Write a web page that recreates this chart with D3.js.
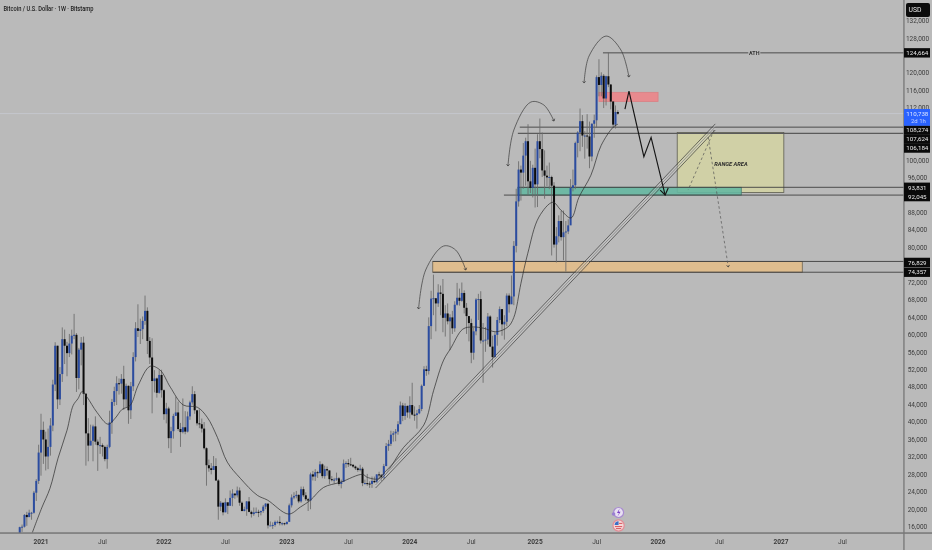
<!DOCTYPE html>
<html><head><meta charset="utf-8">
<script src="https://cdn.jsdelivr.net/npm/d3@7"></script>
<style>
html,body{margin:0;padding:0;background:#bababa;overflow:hidden}
svg{display:block;font-family:Roboto,"Noto Sans",sans-serif;filter:blur(.35px)}
</style></head><body>
<svg id="c" width="932" height="550"></svg>
<script>
// Weekly candles, thousands of USD. First candle is the week of 2 Nov 2020.
const firstOpen = 13.6;
const closes = [
15.9,16.0,18.7,18.2,19.2,19.2,23.8,26.5,33.0,
38.2,36.0,32.1,34.3,39.2,48.6,57.5,45.2,51.0,59.0,
57.5,55.8,58.0,59.8,60.0,50.1,56.6,58.2,46.5,37.4,
34.6,35.7,39.0,35.5,34.7,34.7,34.3,31.5,34.3,39.9,
44.6,47.1,48.9,48.8,49.9,45.2,48.3,42.7,48.2,54.9,
61.5,60.9,61.3,63.2,65.5,58.6,54.8,49.4,50.0,46.7,
50.8,47.3,
41.8,43.1,36.3,37.9,41.4,42.2,38.4,37.7,38.8,37.8,
41.3,44.5,46.4,42.7,39.7,39.5,38.5,34.0,30.1,29.4,
29.0,29.9,26.6,20.6,21.5,19.3,21.6,20.8,22.6,23.6,
23.2,24.3,21.5,19.6,20.0,21.8,19.4,18.9,19.3,19.4,
19.3,19.6,20.6,21.3,16.3,16.3,16.4,17.1,17.1,16.8,
16.8,16.6,
17.1,20.9,22.7,23.0,23.3,21.8,24.6,23.2,22.3,22.0,
28.0,27.5,28.5,28.3,30.3,27.6,29.2,28.9,26.9,26.7,
26.8,27.1,25.8,26.3,30.5,30.6,30.3,30.2,29.8,29.4,
29.0,29.3,26.0,26.0,25.9,25.8,26.5,26.2,28.0,27.9,
27.2,29.9,34.5,35.0,37.1,37.4,37.8,39.5,43.8,41.4,
43.7,42.2,
43.9,41.7,41.6,42.0,43.0,48.3,52.1,51.7,62.0,68.3,
68.4,67.2,69.7,69.4,63.9,64.9,63.1,64.0,61.5,66.9,
68.5,67.8,69.6,66.2,64.3,62.7,55.9,60.8,68.1,68.2,
58.7,58.7,58.9,64.2,57.3,54.9,60.0,63.4,65.9,62.4,
63.0,69.0,67.0,68.8,80.4,90.6,97.9,97.2,101.1,104.4,
95.2,93.7,98.3,
94.5,104.4,102.6,97.7,96.5,96.1,96.2,94.2,80.7,82.6,
86.1,82.4,83.5,83.7,85.1,93.7,94.3,104.0,106.4,109.0,
105.7,105.7,105.5,100.9,108.4,109.2,119.1,117.3,119.4,114.2,
119.3,117.4,113.5,108.2,111.1,110.7];
const highs = [
16.0,16.5,18.9,19.4,19.9,19.4,24.2,26.9,34.8,
41.9,40.1,37.8,38.5,40.9,49.7,58.3,57.5,52.6,61.7,
61.2,58.4,60.2,61.2,64.8,60.4,57.0,59.5,59.6,46.6,
40.9,39.4,39.4,41.3,36.0,36.6,35.1,34.6,34.8,42.6,
45.3,48.1,50.5,50.0,51.0,52.9,48.8,48.4,49.2,56.0,
62.9,67.0,63.7,64.2,69.0,66.3,59.5,59.2,51.9,50.2,
51.9,52.0,
47.5,44.4,43.5,38.9,41.9,45.8,44.7,39.8,45.4,42.5,
42.4,44.9,48.2,47.1,41.5,42.9,40.8,40.0,34.2,31.4,
30.6,32.2,31.7,26.9,21.9,21.5,22.5,21.0,24.3,24.6,
23.6,25.2,25.0,21.8,20.6,21.9,22.8,19.7,20.4,20.4,
19.9,19.7,21.0,21.4,21.0,17.2,17.0,17.4,17.4,18.4,
17.0,16.9,
17.2,21.3,23.4,23.9,24.2,23.4,25.2,25.2,23.9,22.6,
28.4,28.8,29.2,28.8,31.0,30.5,30.0,29.8,28.9,27.6,
27.2,28.4,27.4,26.8,31.4,31.0,31.5,31.8,30.3,30.0,
29.7,30.2,29.7,26.8,28.1,26.4,27.5,27.5,28.0,28.6,
28.0,30.4,35.2,35.9,38.0,37.9,38.4,40.2,44.7,44.4,
44.3,43.8,
45.9,49.0,43.6,42.8,43.9,48.6,52.8,52.9,64.0,70.1,
73.8,68.1,71.6,71.3,72.8,66.8,67.2,64.7,65.5,67.7,
71.9,70.6,72.0,70.2,67.3,63.4,63.7,61.6,68.4,69.4,
70.0,62.7,61.8,65.0,64.5,59.8,60.6,64.1,66.5,65.6,
64.5,69.5,69.5,73.6,81.5,93.5,99.8,98.8,104.0,105.2,
108.3,99.9,99.0,
102.7,106.0,109.6,106.4,102.3,98.8,99.5,96.5,95.0,84.7,
87.4,88.5,88.5,86.1,86.5,95.7,97.9,104.3,106.7,111.9,
110.4,106.7,110.6,108.9,108.5,110.5,119.5,123.2,120.2,119.8,
119.4,124.7,117.5,113.6,112.6,111.5];
const lows = [
13.2,14.8,15.8,16.2,18.2,17.6,19.0,21.9,25.8,
27.7,30.4,28.9,29.2,32.3,37.9,47.1,43.0,43.9,49.2,
53.3,50.5,54.9,55.5,59.0,46.9,47.5,53.0,43.9,30.0,
31.0,34.8,31.0,34.8,28.8,32.7,32.1,31.0,29.3,34.0,
37.3,43.7,43.9,46.3,46.5,42.8,43.4,39.6,40.7,47.1,
53.9,59.5,57.9,59.0,62.3,55.6,53.3,42.0,46.8,45.6,
46.5,45.6,
40.5,39.7,34.0,32.9,36.2,41.6,38.0,34.3,37.4,37.2,
37.6,40.5,44.0,41.9,39.2,38.6,37.6,33.7,25.4,28.6,
28.0,29.3,26.5,17.6,19.6,18.6,19.3,18.9,20.8,20.7,
22.4,22.7,20.8,19.5,19.5,18.5,19.3,18.1,18.5,19.1,
18.2,18.6,19.2,20.0,15.6,16.3,15.5,16.0,16.7,16.3,
16.3,16.3,
16.5,17.3,20.4,22.3,22.5,21.4,21.5,22.8,21.9,19.6,
20.0,26.6,26.5,27.2,28.2,27.1,27.0,27.7,25.8,26.4,
25.9,26.5,25.4,24.8,26.3,29.5,29.7,29.9,29.5,29.0,
28.6,28.7,25.3,25.7,25.4,24.9,24.9,26.0,26.0,27.2,
26.5,26.9,29.9,33.4,34.5,35.5,35.6,37.1,39.9,40.2,
40.5,41.0,
40.8,41.5,40.3,38.5,41.8,42.5,48.4,50.6,50.9,59.0,
64.5,60.8,66.4,64.5,60.6,59.6,62.4,56.5,60.2,60.7,
66.7,66.7,67.6,64.9,60.2,58.5,53.5,54.3,59.9,63.4,
58.0,49.0,56.1,57.8,57.2,52.5,54.6,57.5,62.7,59.8,
58.9,62.0,65.1,67.4,66.8,78.9,89.4,90.8,93.5,94.2,
92.2,92.5,91.5,
89.2,89.3,100.5,96.2,91.2,94.1,93.4,78.2,80.0,76.6,
81.2,81.6,77.1,74.5,83.1,85.3,92.9,93.4,100.7,102.1,
103.1,100.4,102.7,98.2,99.8,105.2,107.5,114.7,114.7,112.0,
112.6,116.8,111.7,107.4,107.3,110.5];

// Moving average: week number (0 = 4 Jan 2021), price in thousands
const maWeeks = [-3.7,0.3,3.8,7.2,11,13.6,15.7,17.4,19.5,23.7,28.4,31.4,34.3,37.7,41.1,46.2,50.4,54.7,60.2,66.1,70.3,74.6,78.8,84.3,91.5,95.8,104.7,109.7,114,119.5,126.7,136,138.1,143.6,153.4,161.9,166.1,170.3,173.3,178.4,182.6,187.3,192.4,197.5,200,203,205.9,210.6,216.5,219.9,224.2,227.5,232.6,236.9,242,244];
const maPrices = [14.6,20.3,24.8,31.7,38.1,43.8,45.4,47,45.7,42.2,39.5,40.9,42.9,43.8,48.4,52.8,51.9,48,43.9,43.4,41.1,36.5,30.8,27.1,23.2,22.1,18.9,20.5,22.1,25,26.2,28,27.3,27.1,34.2,39.3,47.3,54.2,56.9,61.3,61.8,61.5,60.7,61.8,64,71.8,78.7,87,90.4,88.6,86.8,91.5,96.6,103.4,107.6,108.3];

// Tick labels that the reference shows (those under a price tag are not visible there)
const priceTicks = [16000,20000,24000,28000,32000,36000,40000,44000,48000,52000,56000,60000,64000,68000,72000,80000,84000,88000,96000,100000,112000,116000,120000,128000,132000];
const timeTickDates = ["2021-01-04","2021-07-05","2022-01-03","2022-07-04","2023-01-02","2023-07-03","2024-01-01","2024-07-01","2025-01-06","2025-07-07","2026-01-05","2026-07-06","2027-01-04","2027-07-05"];
const timeTickLabels = ["2021","Jul","2022","Jul","2023","Jul","2024","Jul","2025","Jul","2026","Jul","2027","Jul"];

// Horizontal levels: start week, price
const levelStarts = [237.7,202.5,201.7,201.7,195.8,165.7,165.7];
const levelPrices = [124664,107624,106184,93831,92045,76829,74357];
const lastPrice = 110738;
const maLast = 108274;

// Zones: week from, week to, top price, bottom price
const zoneNames = ["range","orange","green","red"];
const zoneFrom  = [269.1,165.7,201.7,236];
const zoneTo    = [314.2,322,296.2,261];
const zoneTop   = [106390,76829,93831,115610];
const zoneBot   = [92630,74357,92045,113500];

// Drawn lines in data space
const trendWeeks = [141.5,285.2];
const trendPrices = [25564,107670];
const zigWeeks = [247,248.7,255,258.05,264];
const zigPrices = [111780,115906,100841,105289,92059];
const zigHeadWeeks = [261.9,264,265.3];
const zigHeadPrices = [93205,92059,93664];
const arch1Weeks = [229.7,231.8,239,245.3,248.7];
const arch1Prices = [117740,123930,128518,125307,119116];
const arch2Weeks = [197.5,200,207.2,212.7,217];
const arch2Prices = [98708,106963,113384,112696,109027];
const arch3Weeks = [159.7,162.7,170.3,175.4,179.7];
const arch3Prices = [65919,74861,80365,79447,74861];
const dash1Weeks = [284.7,273.7];
const dash1Prices = [106963,93205];
const dash2Weeks = [282.2,290.7];
const dash2Prices = [105358,75549];

const tagValues = [124664,108274,107624,106184,93831,92045,76829,74357];
const tagShift  = [0,5.7,11.9,14.6,0,1.5,1,0];
const tagLabels = ["124,664","108,274","107,624","106,184","93,831","92,045","76,829","74,357"];

const W0 = new Date(Date.UTC(2021,0,4));
const wkDate = w => new Date(W0.getTime() + w*7*864e5);
const x = d3.scaleUtc().domain([W0, new Date(Date.UTC(2027,0,4))]).range([41,781]);
const X = w => x(wkDate(w));
const y = d3.scaleLinear().domain([16000,128000]).range([526.7,38.3]);
const axisX = 904, axisY = 533;
const BG="#bababa", AX="#777", TXT="#3c3c3c";

const svg = d3.select("#c");
svg.append("rect").attr("width",932).attr("height",550).attr("fill",BG);
const defs = svg.append("defs");
defs.append("clipPath").attr("id","plot").append("rect").attr("width",axisX).attr("height",axisY);
defs.append("marker").attr("id","ah").attr("viewBox","-4 -4 8 8").attr("refX",0).attr("refY",0)
 .attr("markerWidth",5).attr("markerHeight",5).attr("markerUnits","userSpaceOnUse").attr("orient","auto")
 .append("path").attr("d","M-3,-2.5L0,0L-3,2.5").attr("fill","none").attr("stroke","#333").attr("stroke-width",1);

const plot = svg.append("g").attr("clip-path","url(#plot)");

// last-price hairline
plot.append("line").attr("x1",0).attr("x2",axisX).attr("y1",y(lastPrice)).attr("y2",y(lastPrice))
 .attr("stroke","#c4c6cc").attr("stroke-width",1);

// zones
const zoneFill = {range:"#d0d0a6",orange:"#dfbd8e",green:"#66b8a2",red:"#e88a8e"};
const zoneStroke = {range:"#5c5c50",orange:"#6d6350",green:"#4a7f72",red:"#d98084"};
zoneNames.forEach((n,i)=>{
  plot.append("rect").attr("x",X(zoneFrom[i])).attr("width",X(zoneTo[i])-X(zoneFrom[i]))
   .attr("y",y(zoneTop[i])).attr("height",y(zoneBot[i])-y(zoneTop[i]))
   .attr("fill",zoneFill[n]).attr("fill-opacity",n==="green"?0.9:1)
   .attr("stroke",zoneStroke[n]).attr("stroke-width",0.8);
});
// levels
levelStarts.forEach((s,i)=>{
  plot.append("line").attr("x1",X(s)).attr("x2",axisX).attr("y1",y(levelPrices[i])).attr("y2",y(levelPrices[i]))
   .attr("stroke",i===2?"#5a5a5a":"#3f3f3f").attr("stroke-width",i===2?1.3:0.9);
});
// ATH label
const athW=301.7;
plot.append("rect").attr("x",X(athW)-6).attr("width",12).attr("y",y(124664)-3).attr("height",6).attr("fill",BG);
plot.append("text").attr("x",X(athW)).attr("y",y(124664)+1.9).attr("text-anchor","middle")
 .attr("font-size",5.4).attr("font-weight",700).attr("fill","#333").text("ATH");
// Range text
plot.append("text").attr("x",X(291.8)).attr("y",y(99100)+2).attr("text-anchor","middle")
 .attr("font-size",5.7).attr("font-weight",700).attr("font-style","italic").attr("fill","#2a2a2a").text("RANGE AREA");

// candles
const candles = closes.map((c,i)=>({w:i-9,o:i?closes[i-1]:firstOpen,c,h:highs[i],l:lows[i]}));
const gc = plot.append("g");
gc.selectAll("line").data(candles).join("line")
 .attr("x1",d=>X(d.w)).attr("x2",d=>X(d.w))
 .attr("y1",d=>y(d.h*1000)).attr("y2",d=>y(d.l*1000))
 .attr("stroke","#6a6a6a").attr("stroke-width",0.85);
gc.selectAll("rect").data(candles).join("rect")
 .attr("x",d=>X(d.w)-1).attr("width",2)
 .attr("y",d=>y(Math.max(d.o,d.c)*1000))
 .attr("height",d=>Math.max(1,Math.abs(y(d.o*1000)-y(d.c*1000))))
 .attr("fill",d=>d.c>=d.o?"#2b4ca0":"#0c0c0c");

// moving average
plot.append("path").datum(maWeeks.map((w,i)=>[w,maPrices[i]*1000]))
 .attr("d",d3.line().x(d=>X(d[0])).y(d=>y(d[1])).curve(d3.curveCatmullRom))
 .attr("fill","none").attr("stroke","#2b2b2b").attr("stroke-width",0.7);

const line2 = d3.line().x(d=>X(d[0])).y(d=>y(d[1]));
const zip = (a,b)=>a.map((v,i)=>[v,b[i]]);

// trend channel: parallel lines offset in price
const chan = [[-700,"#444",.75],[700,"#444",.75],[-230,"#d0d0d0",.6],[230,"#d0d0d0",.6],[0,"#6a6a6a",.55]];
chan.forEach(([dp,col,sw])=>{
  plot.append("path").attr("d",line2(zip(trendWeeks,trendPrices.map(p=>p+dp))))
   .attr("fill","none").attr("stroke",col).attr("stroke-width",sw);
});

// dashed projections
[[dash1Weeks,dash1Prices,false],[dash2Weeks,dash2Prices,true]].forEach(([a,b,m])=>{
  const p=plot.append("path").attr("d",line2(zip(a,b))).attr("fill","none")
   .attr("stroke","#555").attr("stroke-width",0.7).attr("stroke-dasharray","2.6 2.4");
  if(m) p.attr("marker-end","url(#ah)");
});

// arches
const curve = d3.line().x(d=>X(d[0])).y(d=>y(d[1])).curve(d3.curveCatmullRom);
[[arch1Weeks,arch1Prices],[arch2Weeks,arch2Prices],[arch3Weeks,arch3Prices]].forEach(([a,b])=>{
  const pts=zip(a,b);
  plot.append("path").attr("d",curve(pts)).attr("fill","none").attr("stroke","#3a3a3a").attr("stroke-width",0.7)
    .attr("marker-end","url(#ah)");
  plot.append("path").attr("d",curve(pts.slice().reverse())).attr("fill","none").attr("stroke","none")
    .attr("marker-end","url(#ah)");
});

// projected path
plot.append("path").attr("d",line2(zip(zigWeeks,zigPrices))).attr("fill","none").attr("stroke","#151515").attr("stroke-width",1.15);
plot.append("path").attr("d",line2(zip(zigHeadWeeks,zigHeadPrices))).attr("fill","none").attr("stroke","#151515").attr("stroke-width",1.15);

// event icons
const ex=X(244.3);
const ic=svg.append("g");
ic.append("circle").attr("cx",ex).attr("cy",512.5).attr("r",5).attr("fill","#e8e0f2").attr("stroke","#a88bd0").attr("stroke-width",1.2);
ic.append("path").attr("d",`M${ex+1},508.5L${ex-1.6},513L${ex+.4},513L${ex-1},516.5L${ex+2},511.8L${ex},511.8Z`).attr("fill","#7b3fc4");
ic.append("circle").attr("cx",ex-5).attr("cy",514).attr("r",1.8).attr("fill","#9a7fd0");
ic.append("circle").attr("cx",ex).attr("cy",525.5).attr("r",5.6).attr("fill","#f4d7d7").attr("stroke","#e28c96").attr("stroke-width",1.2);
ic.append("path").attr("d",`M${ex-4},525A4,4 0 0 1 ${ex},521.3L${ex},525Z`).attr("fill","#3a6fc8");
ic.append("path").attr("d",`M${ex+.5},523.4H${ex+3.8}M${ex-3.6},526.6H${ex+3.6}M${ex-2.6},528.6H${ex+2.6}`).attr("stroke","#d8555f").attr("stroke-width",1);

// axes
svg.append("rect").attr("x",0).attr("y",axisY-.7).attr("width",932).attr("height",1.5).attr("fill",AX);
svg.append("rect").attr("x",axisX-.7).attr("y",0).attr("width",1.3).attr("height",550).attr("fill",AX);

// time ticks
const timeDates = timeTickDates.map(d=>new Date(d+"T00:00:00Z"));
svg.append("g").selectAll("text").data(timeDates).join("text")
 .attr("x",d=>x(d)).attr("y",544.3).attr("text-anchor","middle").attr("font-size",6.6)
 .attr("font-weight",(d,i)=>timeTickLabels[i]==="Jul"?400:700)
 .attr("fill",TXT).text((d,i)=>timeTickLabels[i]);

// price ticks
svg.append("g").selectAll("text").data(priceTicks).join("text")
 .attr("x",917.5).attr("y",d=>y(d)+2.3).attr("text-anchor","middle").attr("font-size",6.5)
 .attr("fill",TXT).text(d=>d3.format(",")(d));

// tags
const tg=svg.append("g");
tagValues.forEach((v,i)=>{
  const cy=y(v)+tagShift[i];
  tg.append("rect").attr("x",axisX).attr("width",26).attr("y",cy-4.7).attr("height",9.4).attr("fill","#0a0a0a");
  tg.append("text").attr("x",917.3).attr("y",cy+2.2).attr("text-anchor","middle").attr("font-size",6.2)
   .attr("fill","#e8e8e8").text(tagLabels[i]);
});
// blue tag
tg.append("rect").attr("x",axisX).attr("width",26).attr("y",y(lastPrice)-4.6).attr("height",16.8).attr("fill","#2962ff");
tg.append("text").attr("x",917.3).attr("y",y(lastPrice)+2.2).attr("text-anchor","middle").attr("font-size",6.2).attr("fill","#dbe4ff").text("110,738");
tg.append("text").attr("x",911).attr("y",y(lastPrice)+9.7).attr("font-size",6).attr("fill","#c4d2ff").text("2d 1h");
// USD
tg.append("rect").attr("x",906).attr("y",3).attr("width",24).attr("height",14).attr("rx",2).attr("fill","#0c0c0c");
tg.append("text").attr("x",915).attr("y",12.3).attr("text-anchor","middle").attr("font-size",6.8).attr("fill","#e8e8e8").text("USD");

// title
svg.append("text").attr("x",3.5).attr("y",11.4).attr("font-size",6.6).attr("font-weight",500).attr("fill","#1e1e1e")
 .attr("textLength",90).attr("lengthAdjust","spacingAndGlyphs")
 .text("Bitcoin / U.S. Dollar · 1W · Bitstamp");
</script>
</body></html>
